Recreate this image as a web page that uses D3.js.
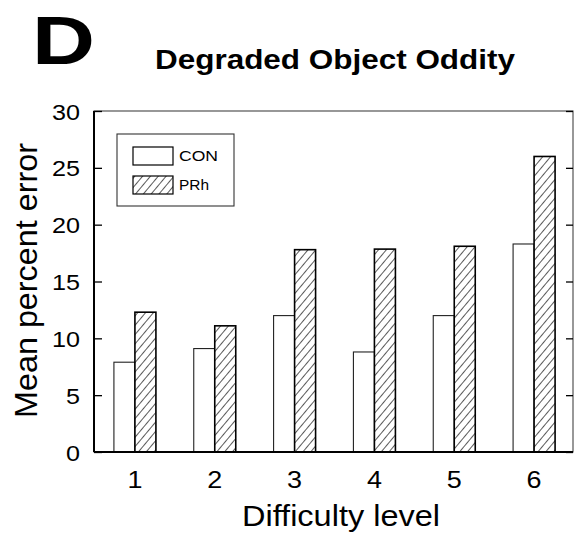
<!DOCTYPE html>
<html><head><meta charset="utf-8">
<script src="https://cdn.jsdelivr.net/npm/d3@7"></script>
<style>body{margin:0;background:#fff}svg{display:block}text{font-family:"Liberation Sans",Arial,sans-serif}</style>
</head><body><svg id="c" width="575" height="537"></svg>
<script>
const categories = ["1","2","3","4","5","6"];
const conValues = [7.9, 9.1, 12.0, 8.8, 12.0, 18.3];
const prhValues = [12.3, 11.1, 17.8, 17.85, 18.1, 26.0];
const yTicks = [0,5,10,15,20,25,30];
const seriesNames = ["CON","PRh"];

const svg = d3.select("#c");
const L=94, R=573, T=111, B=452;
const x = d3.scaleBand().domain(categories).range([L,R]);
const y = d3.scaleLinear().domain([0,30]).range([B,T]);
const bw = 21;

const defs = svg.append("defs");
const pat = defs.append("pattern").attr("id","hatch").attr("patternUnits","userSpaceOnUse")
  .attr("width",6).attr("height",6).attr("patternTransform","rotate(40)");
pat.append("rect").attr("width",6).attr("height",6).attr("fill","#fff");
pat.append("line").attr("x1",0).attr("y1",0).attr("x2",0).attr("y2",6).attr("stroke","#000").attr("stroke-width",1.3);

// Letter and title
svg.append("text").attr("x",32).attr("y",64).attr("font-size",69).attr("font-weight","bold")
  .attr("textLength",63).attr("lengthAdjust","spacingAndGlyphs").text("D");
svg.append("text").attr("x",155).attr("y",69).attr("font-size",27).attr("font-weight","bold")
  .attr("textLength",360).attr("lengthAdjust","spacingAndGlyphs").text("Degraded Object Oddity");

// bars
const g = svg.append("g");
categories.forEach((c,i)=>{
  const cx = x(c)+x.bandwidth()/2+1;
  g.append("rect").attr("x",cx-bw).attr("y",y(conValues[i])).attr("width",bw).attr("height",y(0)-y(conValues[i]))
   .attr("fill","#fff").attr("stroke","#222").attr("stroke-width",1.1);
  g.append("rect").attr("x",cx).attr("y",y(prhValues[i])).attr("width",bw).attr("height",y(0)-y(prhValues[i]))
   .attr("fill","url(#hatch)").attr("stroke","#000").attr("stroke-width",1.6);
});

// frame
svg.append("rect").attr("x",L).attr("y",T).attr("width",R-L).attr("height",B-T).attr("fill","none").attr("stroke","#444").attr("stroke-width",1.1);
svg.append("line").attr("x1",L).attr("x2",R).attr("y1",B).attr("y2",B).attr("stroke","#000").attr("stroke-width",2);
svg.append("line").attr("x1",L).attr("x2",L).attr("y1",T).attr("y2",B).attr("stroke","#000").attr("stroke-width",2);

// y axis left
const yl = svg.append("g").attr("transform",`translate(${L},0)`)
  .call(d3.axisLeft(y).tickValues(yTicks).tickSize(-8).tickPadding(14).tickFormat(d3.format("d")));
yl.select(".domain").remove();
yl.selectAll("line").attr("stroke","#000").attr("stroke-width",1.3);
yl.selectAll("text").attr("font-size",22.5).attr("font-family","Liberation Sans, Arial, sans-serif").attr("fill","#000")
  .attr("dy","0.36em")
  .attr("textLength",d=>d<10?14:28).attr("lengthAdjust","spacingAndGlyphs");
// right ticks
const yr = svg.append("g").attr("transform",`translate(${R},0)`)
  .call(d3.axisRight(y).tickValues(yTicks).tickSize(-7).tickFormat(""));
yr.select(".domain").remove();
yr.selectAll("line").attr("stroke","#000").attr("stroke-width",1.3);

// x axis labels
const xa = svg.append("g").attr("transform",`translate(1,${B})`)
  .call(d3.axisBottom(x).tickSize(0).tickPadding(0));
xa.select(".domain").remove();
xa.selectAll("text").attr("font-size",24).attr("font-family","Liberation Sans, Arial, sans-serif").attr("fill","#000")
  .attr("dy",null).attr("y",36).attr("textLength",15).attr("lengthAdjust","spacingAndGlyphs");

// axis titles
svg.append("text").attr("x",242).attr("y",526).attr("font-size",30)
  .attr("textLength",198).attr("lengthAdjust","spacingAndGlyphs").text("Difficulty level");
svg.append("text").attr("transform",`translate(37,418) rotate(-90)`).attr("font-size",31)
  .attr("textLength",275).attr("lengthAdjust","spacingAndGlyphs").text("Mean percent error");

// legend
const lg = svg.append("g");
lg.append("rect").attr("x",117).attr("y",134).attr("width",117).attr("height",72).attr("fill","#fff").attr("stroke","#333").attr("stroke-width",1.1);
seriesNames.forEach((s,i)=>{
  const yy = 147 + i*29;
  lg.append("rect").attr("x",133).attr("y",yy).attr("width",40).attr("height",18)
    .attr("fill", i===0?"#fff":"url(#hatch)").attr("stroke","#000").attr("stroke-width",1.2);
  lg.append("text").attr("x",179).attr("y",yy+14).attr("font-size",14.5)
    .attr("textLength",i===0?39:30).attr("lengthAdjust","spacingAndGlyphs").text(s);
});
</script></body></html>
